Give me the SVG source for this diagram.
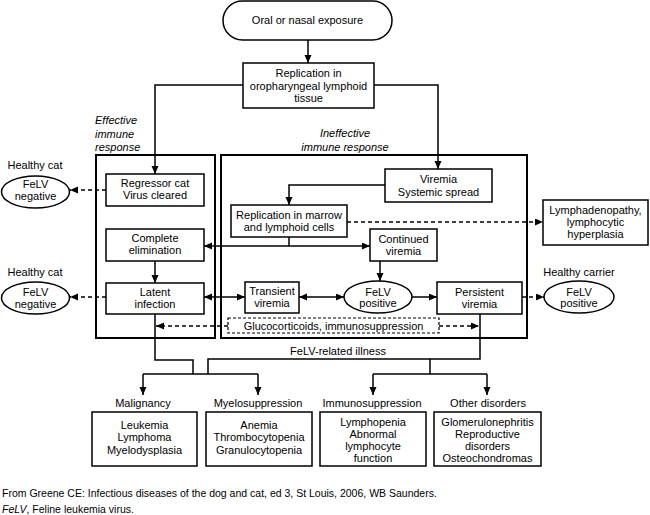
<svg xmlns="http://www.w3.org/2000/svg" width="650" height="515" viewBox="0 0 650 515">
<defs>
<style>
text{font-family:"Liberation Sans",Arial,sans-serif;font-size:11px;fill:#000;text-anchor:middle}
.it{font-style:italic}
.l{text-anchor:start}
.ft{font-size:10.5px;text-anchor:start}
.box{fill:#fff;stroke:#000;stroke-width:1.5}
.big{fill:none;stroke:#000;stroke-width:2}
.c{fill:none;stroke:#000;stroke-width:1.5}
.d{fill:none;stroke:#000;stroke-width:1.5;stroke-dasharray:4 3}
.db{fill:#fff;stroke:#000;stroke-width:1.2;stroke-dasharray:3 2}
</style>
<marker id="ah" markerUnits="userSpaceOnUse" markerWidth="9" markerHeight="8" refX="8" refY="3.5" orient="auto-start-reverse">
<path d="M0,0 L8,3.5 L0,7 z" fill="#000"/>
</marker>
</defs>
<rect width="650" height="515" fill="#fff"/>
<g id="containers">
<rect class="big" x="96" y="155" width="119" height="183"/>
<rect class="big" x="221" y="155" width="306" height="183"/>
<text class="it l" x="95" y="124">Effective</text>
<text class="it l" x="95" y="138">immune</text>
<text class="it l" x="95" y="151">response</text>
<text class="it" x="345" y="137">Ineffective</text>
<text class="it" x="345" y="151">immune response</text>
</g>
<g id="connectors">
<path class="c" d="M308,40 V63" marker-end="url(#ah)"/>
<path class="c" d="M243,85 H155 V174" marker-end="url(#ah)"/>
<path class="c" d="M374,85 H438 V169" marker-end="url(#ah)"/>
<path class="c" d="M385,185 H289 V205" marker-end="url(#ah)"/>
<path class="c" d="M289,237 V246"/>
<path class="c" d="M204,246 H370" marker-start="url(#ah)" marker-end="url(#ah)"/>
<path class="d" d="M106,190 H70" marker-end="url(#ah)"/>
<path class="c" d="M155,261 V283" marker-end="url(#ah)"/>
<path class="d" d="M106,297 H70" marker-end="url(#ah)"/>
<path class="c" d="M204,297 H245" marker-start="url(#ah)" marker-end="url(#ah)"/>
<path class="c" d="M299,297 H344" marker-start="url(#ah)" marker-end="url(#ah)"/>
<path class="c" d="M412,297 H437" marker-end="url(#ah)"/>
<path class="d" d="M522,297 H544" marker-end="url(#ah)"/>
<path class="c" d="M380,261 V281" marker-end="url(#ah)"/>
<path class="d" d="M347,222 H543" marker-end="url(#ah)"/>
<path class="d" d="M228,326 H156" marker-end="url(#ah)"/>
<path class="d" d="M439,326 H479" marker-end="url(#ah)"/>
<path class="c" d="M155,314 V360 H193 V374"/>
<path class="c" d="M480,314 V359 H208 V374"/>
<path class="c" d="M143,374 H258"/>
<path class="c" d="M143,374 V395" marker-end="url(#ah)"/>
<path class="c" d="M258,374 V395" marker-end="url(#ah)"/>
<path class="c" d="M430,359 V374"/>
<path class="c" d="M373,374 H487"/>
<path class="c" d="M373,374 V395" marker-end="url(#ah)"/>
<path class="c" d="M487,374 V395" marker-end="url(#ah)"/>
<text x="338" y="355">FeLV-related illness</text>
</g>
<g id="exposure">
<rect class="box" x="223" y="1" width="169" height="39" rx="19.5"/>
<text x="307.5" y="24">Oral or nasal exposure</text>
</g>
<g id="replication-oro">
<rect class="box" x="243" y="63" width="131" height="45"/>
<text x="308.5" y="77">Replication in</text>
<text x="308.5" y="89.5">oropharyngeal lymphoid</text>
<text x="308.5" y="102">tissue</text>
</g>
<g id="healthy-cat-1">
<text x="35" y="169">Healthy cat</text>
<ellipse class="box" cx="35.5" cy="192" rx="34" ry="16"/>
<text x="35.5" y="188">FeLV</text>
<text x="35.5" y="200">negative</text>
</g>
<g id="regressor">
<rect class="box" x="106" y="174" width="98" height="32"/>
<text x="155" y="187">Regressor cat</text>
<text x="155" y="199">Virus cleared</text>
</g>
<g id="complete-elimination">
<rect class="box" x="106" y="229" width="98" height="32"/>
<text x="155" y="242">Complete</text>
<text x="155" y="254">elimination</text>
</g>
<g id="healthy-cat-2">
<text x="35" y="276">Healthy cat</text>
<ellipse class="box" cx="35.5" cy="298" rx="34" ry="16"/>
<text x="35.5" y="296">FeLV</text>
<text x="35.5" y="308">negative</text>
</g>
<g id="latent">
<rect class="box" x="106" y="283" width="98" height="31"/>
<text x="155" y="296">Latent</text>
<text x="155" y="308">infection</text>
</g>
<g id="viremia">
<rect class="box" x="385" y="169" width="107" height="33"/>
<text x="438.5" y="183">Viremia</text>
<text x="438.5" y="196">Systemic spread</text>
</g>
<g id="replication-marrow">
<rect class="box" x="231" y="205" width="116" height="32"/>
<text x="289" y="219">Replication in marrow</text>
<text x="289" y="231">and lymphoid cells</text>
</g>
<g id="lymphadenopathy">
<rect class="box" x="543" y="200" width="105" height="45"/>
<text x="595.5" y="214">Lymphadenopathy,</text>
<text x="595.5" y="226">lymphocytic</text>
<text x="595.5" y="238">hyperplasia</text>
</g>
<g id="continued-viremia">
<rect class="box" x="370" y="229" width="67" height="32"/>
<text x="403.5" y="243">Continued</text>
<text x="403.5" y="255">viremia</text>
</g>
<g id="transient-viremia">
<rect class="box" x="245" y="282" width="54" height="31"/>
<text x="272" y="295">Transient</text>
<text x="272" y="307">viremia</text>
</g>
<g id="felv-positive">
<ellipse class="box" cx="378" cy="297" rx="34" ry="16"/>
<text x="378" y="296">FeLV</text>
<text x="378" y="307">positive</text>
</g>
<g id="persistent-viremia">
<rect class="box" x="437" y="282" width="85" height="32"/>
<text x="479.5" y="296">Persistent</text>
<text x="479.5" y="308">viremia</text>
</g>
<g id="healthy-carrier">
<text x="579" y="276">Healthy carrier</text>
<ellipse class="box" cx="579" cy="297" rx="35" ry="16"/>
<text x="579" y="296">FeLV</text>
<text x="579" y="307">positive</text>
</g>
<g id="glucocorticoids">
<rect class="db" x="228" y="318" width="211" height="15"/>
<text x="333.5" y="330">Glucocorticoids, immunosuppression</text>
</g>
<g id="malignancy">
<text x="143" y="407">Malignancy</text>
<rect class="box" x="92" y="412" width="105" height="54"/>
<text x="144.5" y="429">Leukemia</text>
<text x="144.5" y="441">Lymphoma</text>
<text x="144.5" y="454">Myelodysplasia</text>
</g>
<g id="myelosuppression">
<text x="258" y="407">Myelosuppression</text>
<rect class="box" x="206" y="412" width="106" height="54"/>
<text x="259" y="429">Anemia</text>
<text x="259" y="441">Thrombocytopenia</text>
<text x="259" y="454">Granulocytopenia</text>
</g>
<g id="immunosuppression">
<text x="372" y="407">Immunosuppression</text>
<rect class="box" x="320" y="412" width="106" height="54"/>
<text x="373" y="426">Lymphopenia</text>
<text x="373" y="438">Abnormal</text>
<text x="373" y="450">lymphocyte</text>
<text x="373" y="462">function</text>
</g>
<g id="other-disorders">
<text x="488" y="407">Other disorders</text>
<rect class="box" x="434" y="412" width="107" height="54"/>
<text x="487.5" y="426">Glomerulonephritis</text>
<text x="487.5" y="438">Reproductive</text>
<text x="487.5" y="450">disorders</text>
<text x="487.5" y="462">Osteochondromas</text>
</g>
<g id="footer">
<text class="ft" x="2" y="496.5">From Greene CE: Infectious diseases of the dog and cat, ed 3, St Louis, 2006, WB Saunders.</text>
<text class="ft" x="2" y="513"><tspan font-style="italic">FeLV</tspan>, Feline leukemia virus.</text>
</g>
</svg>
